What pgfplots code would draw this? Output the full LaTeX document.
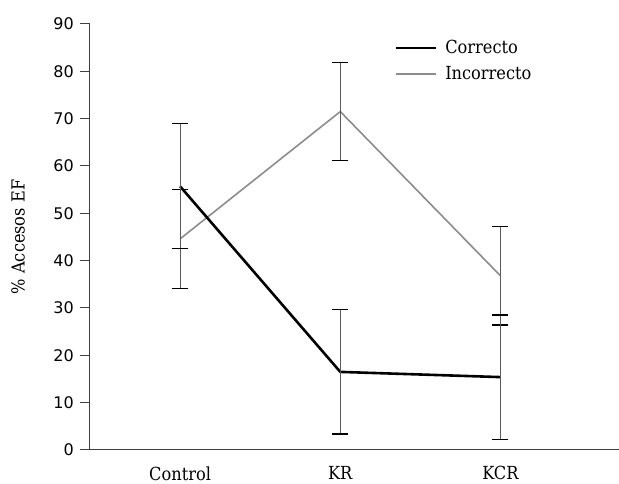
\documentclass[border=0pt]{standalone}
\usepackage{pgfplots}
\pgfplotsset{compat=1.18}
\usepackage{fontspec}
\setmainfont{DejaVu Serif Condensed}
\newfontfamily\tickfont{DejaVu Sans}
\definecolor{incgray}{HTML}{8C8C8C}
\definecolor{errgray}{HTML}{5A5A5A}
\begin{document}
\begin{tikzpicture}
\fontsize{18}{21}\selectfont
\path[use as bounding box] (-90pt,-34pt) rectangle (529pt,450pt);
\begin{axis}[
  at={(0pt,0pt)}, anchor=south west,
  scale only axis, width=529pt, height=426pt,
  xmin=-0.5625, xmax=2.74, ymin=0, ymax=90,
  axis x line*=bottom, axis y line*=left,
  axis line style={color=black!75, line width=1pt},
  xtick={0,1,2}, xticklabels={Control,KR,KCR},
  x tick label style={font=\fontsize{18}{21}\selectfont, inner ysep=1pt, yshift=-5.3pt},
  major x tick style={draw=none},
  ytick={0,10,...,90},
  y tick label style={font=\tickfont\fontsize{16}{18}\selectfont},
  /pgf/number format/assume math mode=true,
  tick align=outside, major tick length=10pt,
  ytick style={color=black!75, line width=1pt},
  ylabel={\% Accesos EF},
  ylabel style={font=\fontsize{18}{21}\selectfont, at={(-72pt,0.5)}, anchor=center},
  legend style={at={(0.57,0.972)}, anchor=north west, draw=none, fill=none,
    font=\fontsize{18}{21}\selectfont, row sep=6pt,
    /tikz/every odd column/.append style={column sep=6pt}},
  legend cell align=left,
  legend image code/.code={\draw[#1] (0pt,0pt) -- (40pt,0pt);},
  reverse legend,
  clip=false,
]
\addplot[incgray, line width=1.6pt,
  error bars/.cd, y dir=both, y explicit,
  error bar style={errgray, line width=1.2pt},
  error mark options={rotate=90, mark size=8pt, line width=1.2pt, black}]
  coordinates {
  (0,44.6) +- (0,10.5)
  (1,71.5) +- (0,10.3)
  (2,36.8) +- (0,10.4)
};
\addlegendentry{Incorrecto}
\addplot[black, line width=2.6pt,
  error bars/.cd, y dir=both, y explicit,
  error bar style={errgray, line width=1.2pt},
  error mark options={rotate=90, mark size=8pt, line width=1.2pt, black}]
  coordinates {
  (0,55.7) +- (0,13.2)
  (1,16.5) +- (0,13.1)
  (2,15.4) +- (0,13.1)
};
\addlegendentry{Correcto}
\end{axis}
\end{tikzpicture}
\end{document}
